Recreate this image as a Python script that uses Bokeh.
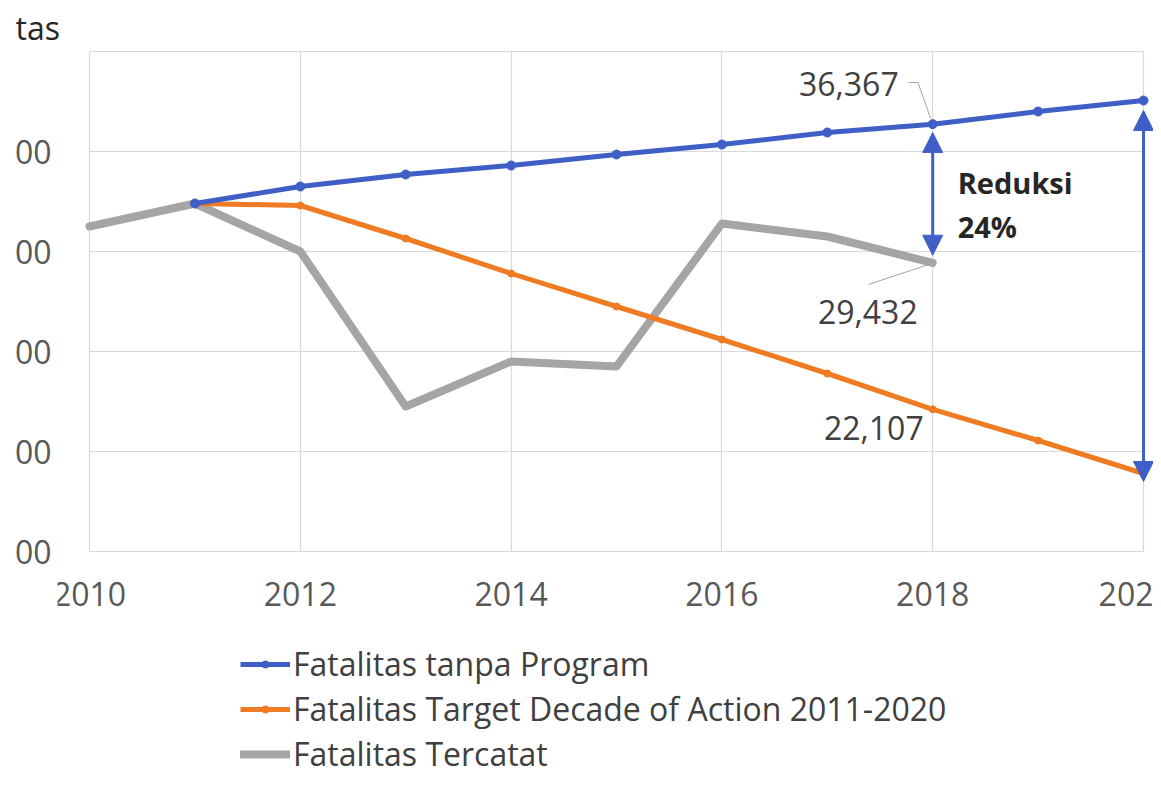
from bokeh.plotting import figure
from bokeh.models import Legend, LegendItem, Label, Arrow, NormalHead, FixedTicker, Range1d, Title, Grid
from bokeh.embed import file_html
from bokeh.resources import INLINE

# ---------------- data ----------------
years_proj = [2011, 2012, 2013, 2014, 2015, 2016, 2017, 2018, 2019, 2020]
tanpa_program = [32400, 33250, 33850, 34300, 34850, 35350, 35950, 36367, 37000, 37550]
target_doa = [32400, 32300, 30650, 28900, 27250, 25600, 23900, 22107, 20550, 18900]
years_rec = [2010, 2011, 2012, 2013, 2014, 2015, 2016, 2017, 2018]
tercatat = [31250, 32400, 30000, 22250, 24500, 24250, 31400, 30750, 29432]

series_names = ["Fatalitas tanpa Program",
                "Fatalitas Target Decade of Action 2011-2020",
                "Fatalitas Tercatat"]
x_ticks = [2010, 2012, 2014, 2016, 2018, 2020]
x_tick_labels = ["2010", "2012", "2014", "2016", "2018", "202"]  # last one is cropped in the source
y_ticks = [15000, 20000, 25000, 30000, 35000, 40000]
y_tick_labels = ["00", "00", "00", "00", "00", ""]   # visible (cropped) part of labels
axis_title = "tas"                                     # visible (cropped) part of title
reduction_text = ["Reduksi", "24%"]

# ---------------- style ----------------
BLUE = "#3F5FC6"
ORANGE = "#EF7B22"
GRAY = "#A5A5A5"
GRID = "#D9D9D9"
TXT = "#404040"
FONT = "Open Sans"
FS = "32px"

X0, X1 = x_ticks[0], x_ticks[-1]
Y0, Y1 = y_ticks[0], y_ticks[-1]

# frame extends beyond the chart area so the legend and edge labels are not clipped
p = figure(width=1153, height=785, output_backend="svg", toolbar_location=None,
           x_range=Range1d(2009.696, 2020.095), y_range=Range1d(3300, 40050),
           min_border_left=57, min_border_right=0, min_border_top=50, min_border_bottom=0)
p.background_fill_color = "white"
p.border_fill_color = "white"
p.outline_line_color = None

p.title = Title(text=axis_title, align="left", offset=-42, standoff=3,
                text_font=FONT, text_font_size=FS, text_font_style="normal", text_color="#262626")

p.xaxis.ticker = FixedTicker(ticks=x_ticks)
p.xaxis.major_label_overrides = {t: l for t, l in zip(x_ticks, x_tick_labels)}
p.yaxis.ticker = FixedTicker(ticks=y_ticks)
p.yaxis.major_label_overrides = {t: l for t, l in zip(y_ticks, y_tick_labels)}
p.xaxis.fixed_location = Y0
for ax in (p.xaxis[0], p.yaxis[0]):
    ax.axis_line_color = None
    ax.major_tick_line_color = None
    ax.minor_tick_line_color = None
    ax.major_label_text_font = FONT
    ax.major_label_text_font_size = FS
    ax.major_label_text_color = "#595959"
p.yaxis.major_label_standoff = 0
p.xaxis.major_label_standoff = 24

has_cross = "cross_bounds" in Grid.properties()
p.ygrid.grid_line_color = GRID
p.ygrid.grid_line_width = 1.2
if has_cross:
    p.xgrid.grid_line_color = GRID
    p.xgrid.grid_line_width = 1.2
    p.xgrid.cross_bounds = (Y0, Y1)
    p.ygrid.cross_bounds = (X0, X1)
else:
    p.xgrid.grid_line_color = None
    p.segment(x0=x_ticks, y0=[Y0] * len(x_ticks), x1=x_ticks, y1=[Y1] * len(x_ticks),
              line_color=GRID, line_width=1.2, level="underlay")

# ---------------- series ----------------
r_gray = p.line(years_rec, tercatat, line_color=GRAY, line_width=8, line_join="round", line_cap="round")
r_or = p.line(years_proj, target_doa, line_color=ORANGE, line_width=5, line_join="round")
s_or = p.scatter(years_proj, target_doa, size=7, color=ORANGE)
r_bl = p.line(years_proj, tanpa_program, line_color=BLUE, line_width=5, line_join="round")
s_bl = p.scatter(years_proj, tanpa_program, size=9, color=BLUE)

# ---------------- annotations ----------------
i18 = years_proj.index(2018)
i20 = years_proj.index(2020)
g18 = tercatat[years_rec.index(2018)]

# leader lines
p.line([2017.77, 2017.86, 2017.98], [38450, 38450, tanpa_program[i18] + 300], line_color=GRAY, line_width=1)
p.line([2017.39, 2017.98], [28350, g18 - 50], line_color=GRAY, line_width=1)

lab_kw = dict(text_font=FONT, text_font_size=FS, text_color=TXT, text_align="right", text_baseline="middle")
p.add_layout(Label(x=2018, y=38400, x_offset=-34, text=f"{tanpa_program[i18]:,}", **lab_kw))
p.add_layout(Label(x=2018, y=27000, x_offset=-15, text=f"{g18:,}", **lab_kw))
p.add_layout(Label(x=2018, y=21200, x_offset=-9, text=f"{target_doa[i18]:,}", **lab_kw))

red_kw = dict(text_font=FONT, text_font_size="29px", text_font_style="bold", text_color="#262626",
              text_align="left", text_baseline="middle", x_offset=25)
p.add_layout(Label(x=2018, y=33450, text=reduction_text[0], **red_kw))
p.add_layout(Label(x=2018, y=31250, text=reduction_text[1], **red_kw))

def head():
    return NormalHead(size=20, fill_color=BLUE, line_color=BLUE)

p.add_layout(Arrow(start=head(), end=head(), x_start=2018, y_start=tanpa_program[i18] - 420,
                   x_end=2018, y_end=g18 + 380, line_color=BLUE, line_width=3))
p.add_layout(Arrow(start=head(), end=head(), x_start=2020, y_start=tanpa_program[i20] - 500,
                   x_end=2020, y_end=target_doa[i20] - 400, line_color=BLUE, line_width=3))

# ---------------- legend ----------------
legend = Legend(items=[LegendItem(label=series_names[0], renderers=[r_bl, s_bl]),
                       LegendItem(label=series_names[1], renderers=[r_or, s_or]),
                       LegendItem(label=series_names[2], renderers=[r_gray])],
                location=(183, 9), orientation="vertical", padding=0, margin=0, spacing=0,
                glyph_width=50, glyph_height=18, label_height=45, label_standoff=3,
                label_text_font=FONT, label_text_font_size=FS, label_text_color=TXT,
                border_line_color=None, background_fill_alpha=0)
p.add_layout(legend, "center")

open("out.html", "w").write(file_html(p, INLINE))
